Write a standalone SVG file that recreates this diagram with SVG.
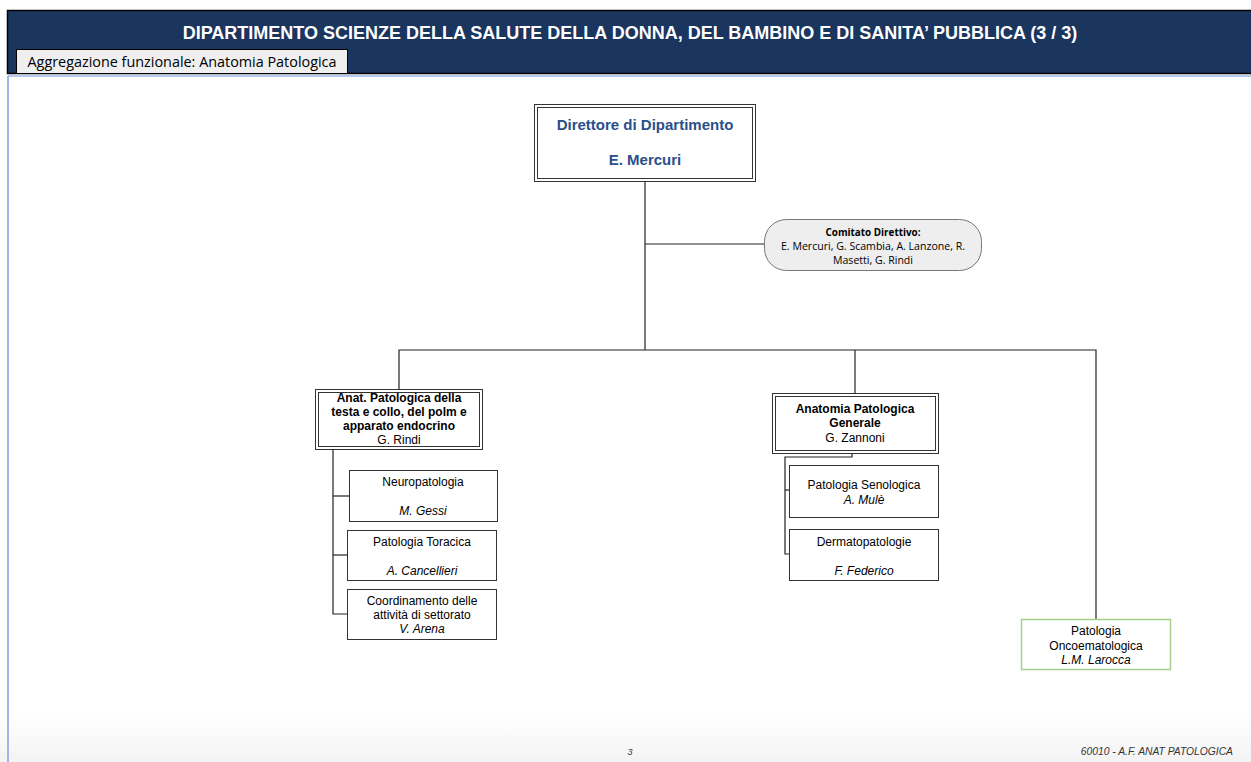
<svg xmlns="http://www.w3.org/2000/svg" width="1251" height="762" viewBox="0 0 1251 762">
<defs>
<linearGradient id="foot" x1="0" y1="0" x2="0" y2="1">
<stop offset="0" stop-color="#ffffff"/>
<stop offset="1" stop-color="#f3f3f3"/>
</linearGradient>
</defs>
<style>
.t{font-family:"Liberation Sans",Arial,sans-serif;font-size:12px;fill:#000;text-anchor:middle}
.b{font-weight:bold}
.i{font-style:italic}
.box{fill:#fff;stroke:#333;stroke-width:1}
.dbl{fill:none;stroke:#333;stroke-width:1}
.ln{fill:none;stroke:#222;stroke-width:1.2}
.cal{font-family:"Open Sans","Liberation Sans",sans-serif;text-anchor:middle;fill:#000}
</style>
<rect x="0" y="0" width="1251" height="762" fill="#fff"/>
<rect x="0" y="715" width="1251" height="47" fill="url(#foot)"/>
<g id="header">
<rect x="7.5" y="10.5" width="1250" height="63" fill="#1a355e" stroke="#000" stroke-width="1.5"/>
<text x="630" y="39" font-family="Liberation Sans,Arial,sans-serif" font-weight="bold" font-size="18" fill="#fff" text-anchor="middle">DIPARTIMENTO SCIENZE DELLA SALUTE DELLA DONNA, DEL BAMBINO E DI SANITA’ PUBBLICA (3 / 3)</text>
<rect x="16.5" y="49.5" width="331" height="24" fill="#efefef" stroke="#000" stroke-width="1"/>
<text x="182" y="67" class="cal" font-size="14" textLength="309" lengthAdjust="spacingAndGlyphs">Aggregazione funzionale: Anatomia Patologica</text>
<line x1="8" y1="76" x2="1251" y2="76" stroke="#9bb8e6" stroke-width="1.5"/>
<line x1="8" y1="76" x2="8" y2="762" stroke="#9bb8e6" stroke-width="2"/>
</g>
<g id="connectors">
<polyline class="ln" points="645,181 645,350"/>
<polyline class="ln" points="645,244 764,244"/>
<polyline class="ln" points="399,390 399,350 1096,350 1096,619"/>
<polyline class="ln" points="855,350 855,393"/>
<polyline class="ln" points="333,449 333,614 347,614"/>
<polyline class="ln" points="333,496 349,496"/>
<polyline class="ln" points="333,555 347,555"/>
<polyline class="ln" points="852,453 852,457 785,457 785,554 789,554"/>
<polyline class="ln" points="785,490 789,490"/>
</g>
<g id="director">
<rect x="534.5" y="104.5" width="221" height="77" class="dbl" stroke-width="1.5"/>
<rect x="537.5" y="107.5" width="215" height="71" class="dbl" stroke-width="1.5"/>
<text x="645" y="130" class="t b" style="fill:#2a4f8a;font-size:15px">Direttore di Dipartimento</text>
<text x="645" y="165" class="t b" style="fill:#2a4f8a;font-size:15px">E. Mercuri</text>
</g>
<g id="comitato">
<rect x="764.5" y="219.5" width="217" height="51" rx="22" fill="#eeeeee" stroke="#777" stroke-width="1"/>
<text x="873" y="236" class="cal" font-size="10.5" font-weight="bold" textLength="95" lengthAdjust="spacingAndGlyphs">Comitato Direttivo:</text>
<text x="873" y="250" class="cal" font-size="10.5" textLength="184" lengthAdjust="spacingAndGlyphs">E. Mercuri, G. Scambia, A. Lanzone, R.</text>
<text x="873" y="264" class="cal" font-size="10.5" textLength="80" lengthAdjust="spacingAndGlyphs">Masetti, G. Rindi</text>
</g>
<g id="anat-testa">
<rect x="315.5" y="389.5" width="167" height="60" class="box"/>
<rect x="318.5" y="392.5" width="161" height="54" class="dbl"/>
<text x="399" y="402" class="t b">Anat. Patologica della</text>
<text x="399" y="416" class="t b">testa e collo, del polm e</text>
<text x="399" y="430" class="t b">apparato endocrino</text>
<text x="399" y="444" class="t">G. Rindi</text>
</g>
<g id="neuropatologia">
<rect x="349.5" y="470.5" width="148" height="51" class="box"/>
<text x="423" y="486" class="t">Neuropatologia</text>
<text x="423" y="515" class="t i">M. Gessi</text>
</g>
<g id="toracica">
<rect x="347.5" y="530.5" width="149" height="50" class="box"/>
<text x="422" y="546" class="t">Patologia Toracica</text>
<text x="422" y="575" class="t i">A. Cancellieri</text>
</g>
<g id="coordinamento">
<rect x="347.5" y="589.5" width="149" height="50" class="box"/>
<text x="422" y="605" class="t">Coordinamento delle</text>
<text x="422" y="619" class="t">attività di settorato</text>
<text x="422" y="633" class="t i">V. Arena</text>
</g>
<g id="anat-generale">
<rect x="772.5" y="393.5" width="166" height="60" class="box"/>
<rect x="775.5" y="396.5" width="160" height="54" class="dbl"/>
<text x="855" y="413" class="t b">Anatomia Patologica</text>
<text x="855" y="427" class="t b">Generale</text>
<text x="855" y="442" class="t">G. Zannoni</text>
</g>
<g id="senologica">
<rect x="789.5" y="465.5" width="149" height="52" class="box"/>
<text x="864" y="489" class="t">Patologia Senologica</text>
<text x="864" y="504" class="t i">A. Mulè</text>
</g>
<g id="dermatopatologie">
<rect x="789.5" y="529.5" width="149" height="51" class="box"/>
<text x="864" y="546" class="t">Dermatopatologie</text>
<text x="864" y="575" class="t i">F. Federico</text>
</g>
<g id="oncoematologica">
<rect x="1021.5" y="619.5" width="149" height="50" fill="#fff" stroke="#a8d08d" stroke-width="1.5"/>
<text x="1096" y="635" class="t">Patologia</text>
<text x="1096" y="650" class="t">Oncoematologica</text>
<text x="1096" y="664" class="t i">L.M. Larocca</text>
</g>
<g id="footer">
<text x="630" y="755" class="t i" style="font-size:9px;fill:#333">3</text>
<text x="1233" y="755" class="t i" style="font-size:10.3px;fill:#333;text-anchor:end">60010 - A.F. ANAT PATOLOGICA</text>
</g>
</svg>
